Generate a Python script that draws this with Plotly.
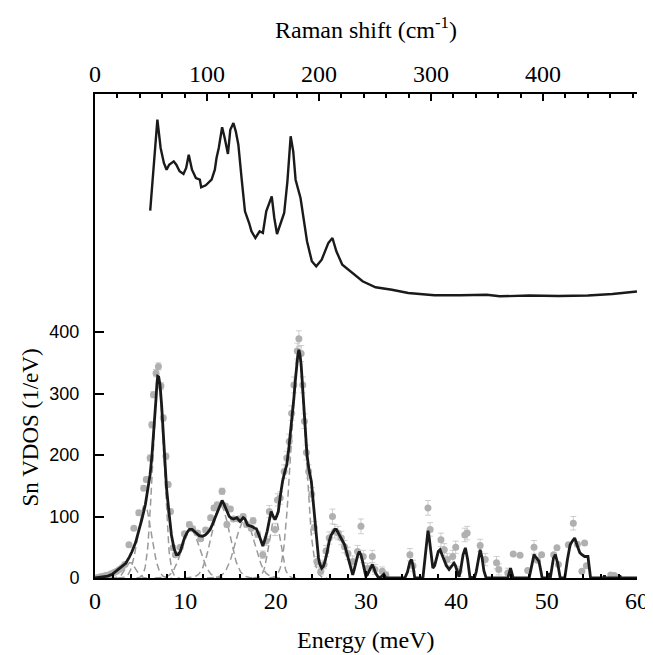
import numpy as np
import plotly.graph_objects as go

# ---------------- data ----------------
# Raman spectrum (top panel): shift in cm^-1, intensity in arbitrary units
raman_shift = [49.3, 55.7, 58.6, 61.5, 63.9, 66.2, 70.3, 72.6, 75.5, 79.0, 81.4, 83.7, 86.6, 90.1,
               93.6, 94.8, 98.9, 104.1, 107.0, 108.5, 110.5, 113.5, 115.8, 118.7, 120.8, 123.6, 125.7,
               128.0, 131.0, 133.9, 137.6, 139.7, 143.2, 147.0, 149.9, 152.9, 157.8, 160.1, 162.5,
               166.0, 168.9, 171.8, 174.7, 177.0, 179.1, 183.5, 189.3, 193.6, 197.5, 202.4, 208.3,
               212.0, 215.5, 220.8, 230.1, 238.9, 250.5, 265.1, 279.7, 303.0, 326.4, 349.7, 361.4,
               387.6, 413.9, 440.1, 462.0, 483.9]
raman_int = [973, 1883, 1600, 1450, 1383, 1433, 1467, 1433, 1367, 1340, 1400, 1533, 1383, 1300,
             1283, 1207, 1227, 1283, 1383, 1500, 1600, 1807, 1700, 1540, 1783, 1850, 1767,
             1633, 1283, 967, 850, 767, 700, 767, 750, 967, 1117, 900, 740,
             850, 950, 1267, 1717, 1567, 1283, 1100, 667, 467, 417, 483, 650,
             700, 567, 433, 350, 267, 207, 183, 150, 127, 127, 133, 117,
             125, 120, 125, 140, 165]

# Sn VDOS fit line (bottom panel)
fit_E = [0, 0.5, 1.0, 1.41, 1.9, 2.3, 2.9, 3.4, 3.8, 4.1, 4.5, 4.85, 5.2, 5.57, 5.85, 6.1, 6.3, 6.47,
         6.62, 6.76, 6.85, 6.94, 7.05, 7.2, 7.38, 7.56, 7.75, 7.92, 8.2, 8.46, 8.75, 9.0, 9.2, 9.44,
         9.65, 9.9, 10.2, 10.45, 10.75, 11.0, 11.3, 11.53, 11.9, 12.2, 12.44, 12.75, 12.99, 13.27,
         13.53, 13.8, 14.07, 14.25, 14.43, 14.65, 14.86, 15.1, 15.33, 15.7, 16.06, 16.4, 16.6,
         16.89, 17.33, 17.69, 17.87, 18.2, 18.58, 18.8, 19.06, 19.3, 19.5, 19.7, 19.93, 20.1,
         20.29, 20.5, 20.76, 21.0, 21.23, 21.45, 21.67, 21.85, 22.02, 22.17, 22.32, 22.45, 22.57,
         22.7, 22.82, 22.95, 23.11, 23.3, 23.47, 23.7, 23.95, 24.15, 24.38, 24.55, 24.74, 24.9,
         25.1, 25.28, 25.46, 25.7, 25.93, 26.15, 26.36, 26.55, 26.72, 26.9, 27.09, 27.35, 27.63,
         27.85, 28.1, 28.3, 28.53, 28.7, 28.9, 29.1, 29.26, 29.45, 29.62, 29.8, 29.98, 30.15,
         30.35, 30.5, 30.7, 30.9, 31.06, 31.4, 31.7, 31.97, 32.2, 34.3, 34.6, 34.85, 35.04, 35.2,
         35.4, 36.3, 36.5, 36.7, 36.86, 37.0, 37.2, 37.4, 37.6, 37.8, 38.0, 38.2, 38.4, 38.66,
         38.9, 39.2, 39.5, 39.74, 39.9, 40.1, 40.3, 40.5, 40.75, 41.0, 41.25, 41.5, 42.0, 42.2,
         42.45, 42.64, 42.85, 43.05, 43.3, 45.7, 45.85, 46.0, 46.15, 46.3, 48.06, 48.3, 48.6,
         48.85, 49.15, 49.35, 49.5, 50.05, 50.2, 50.4, 50.55, 50.75, 50.96, 51.2, 51.5, 52.0,
         52.3, 52.6, 52.85, 53.1, 53.4, 53.67, 53.9, 54.2, 54.57, 54.75, 54.86, 56.3, 56.4,
         56.5, 58.0, 58.1, 58.2, 60]
fit_V = [0, 1, 2, 3, 6, 11, 17, 24, 34, 43, 58, 76, 96, 119, 142, 168, 198, 228,
         262, 293, 315, 328, 327, 314, 280, 238, 190, 146, 105, 70, 48, 38, 38, 43,
         53, 65, 74, 79, 79, 76, 72, 69, 68, 70, 73, 79, 87, 97,
         108, 118, 126, 121, 114, 106, 100, 97, 96, 98, 92, 98, 96,
         86, 84, 81, 80, 68, 52, 62, 76, 94, 108, 101, 95, 100,
         108, 132, 157, 172, 184, 210, 239, 266, 293, 320, 347, 362, 371,
         362, 347, 318, 282, 240, 200, 175, 157, 125, 87, 57, 33, 22,
         16, 19, 27, 42, 60, 70, 76, 79, 79, 74, 69, 62, 54,
         42, 27, 15, 5, 14, 27, 38, 43, 37, 27, 14, 3, 5,
         11, 17, 22, 15, 8, 0, 2, 6, 0, 0, 10, 26, 30, 20,
         0, 0, 25, 60, 77, 65, 35, 16, 20, 34, 43, 46, 38, 27,
         20, 14, 19, 24, 20, 10, 2, 15, 38, 49, 30, 2, 0, 10,
         35, 46, 33, 12, 0, 0, 8, 16, 8, 0, 0, 20, 38,
         33, 27, 12, 0, 0, 8, 0, 15, 32, 38, 25, 0, 0,
         30, 54, 60, 65, 52, 41, 38, 35, 35, 15, 0, 0, 4,
         0, 0, 4, 0, 0]

# measured Sn VDOS points with error bars
dos_E = [0.3, 0.6, 0.9, 1.2, 1.5, 1.8, 2.1, 2.4, 2.7, 3.0, 3.3, 3.76, 4.3, 4.85, 5.39, 5.68, 6.1,
         6.29, 6.47, 6.76, 7.02, 7.3, 7.56, 7.85, 8.1, 8.35, 8.65, 8.9, 9.44, 9.9, 10.45, 10.8,
         11.35, 11.7, 12.25, 12.8, 13.17, 13.53, 14.07, 14.43, 14.6, 14.98, 15.33, 15.87, 16.4,
         16.77, 17.3, 17.5, 18.0, 18.58, 18.94, 19.3, 19.93, 20.2, 20.5, 20.94, 21.23, 21.5,
         21.77, 22.02, 22.39, 22.57, 22.82, 23.0, 23.18, 23.4, 23.65, 24.0, 24.27, 24.56, 25.0,
         25.35, 25.57, 25.93, 26.29, 26.54, 26.9, 27.27, 27.63, 28.0, 28.53, 29.06, 29.44, 29.7,
         30.17, 30.7, 30.99, 31.8, 32.2, 34.86, 35.2, 36.86, 37.1, 38.3, 38.66, 39.0, 39.6,
         39.93, 40.3, 40.94, 41.2, 42.64, 43.2, 44.45, 44.7, 45.7, 46.3, 47.05, 47.9, 48.6,
         48.97, 49.44, 50.78, 51.14, 51.3, 52.4, 52.95, 53.4, 53.9, 54.2, 54.4, 57.1, 57.5]
dos_V = [1, 2, 3, 4, 5, 7, 9, 11, 14, 17, 22, 54, 81, 106, 146, 160, 195,
         249, 298, 333, 344, 312, 260, 198, 152, 108, 49, 38, 50, 72, 87, 80,
         73, 64, 78, 98, 114, 119, 141, 117, 87, 112, 96, 96, 100,
         87, 81, 93, 71, 38, 60, 108, 79, 127, 130, 173, 195, 222,
         268, 314, 369, 389, 365, 314, 255, 204, 173, 136, 82, 27, 11,
         22, 44, 65, 100, 76, 73, 65, 51, 40, 27, 43, 84, 35,
         16, 35, 14, 11, 5, 38, 20, 114, 79, 62, 46, 30, 35,
         50, 11, 70, 73, 53, 30, 25, 14, 8, 39, 37, 12, 50,
         29, 38, 38, 49, 22, 54, 89, 55, 11, 57, 20, 5, 4]
dos_err = [1, 1, 1, 1, 1, 1, 1, 2, 2, 2, 2, 3, 3, 4, 4, 4, 5,
           5, 5, 6, 6, 6, 5, 5, 4, 4, 3, 3, 3, 3, 4, 4,
           4, 3, 4, 4, 4, 4, 5, 4, 4, 4, 4, 4, 4,
           4, 4, 5, 5, 6, 7, 10, 10, 10, 10, 11, 11, 12,
           12, 13, 13, 13, 13, 13, 12, 12, 11, 11, 10, 8, 6,
           7, 9, 10, 12, 11, 11, 11, 10, 10, 9, 10, 12, 10,
           8, 10, 8, 7, 5, 10, 9, 12, 11, 11, 10, 10, 10,
           10, 8, 11, 11, 10, 10, 10, 9, 8, 0, 0, 0, 11,
           0, 0, 0, 0, 0, 0, 11, 0, 0, 0, 0, 0, 0]

# Gaussian components of the decomposition (centre meV, height 1/eV, sigma meV)
gauss_center = [3.9, 5.5, 7.0, 10.6, 13.9, 16.6, 19.9, 22.5]
gauss_height = [25, 118, 325, 78, 118, 95, 100, 365]
gauss_sigma = [0.55, 0.75, 0.6, 1.0, 1.0, 1.05, 0.6, 0.8]

x_ticks = [0, 10, 20, 30, 40, 50, 60]
y_ticks = [0, 100, 200, 300, 400]
raman_ticks = [0, 100, 200, 300, 400]

MEV_TO_CM = 8.0655

# ---------------- figure ----------------
SERIF = "Liberation Serif, Times New Roman, serif"
SANS = "Liberation Sans, Arial, sans-serif"

fig = go.Figure()

for c, h, s in zip(gauss_center, gauss_height, gauss_sigma):
    ge = np.linspace(max(0, c - 4 * s), c + 4 * s, 80)
    gv = h * np.exp(-0.5 * ((ge - c) / s) ** 2)
    fig.add_trace(go.Scatter(x=ge, y=gv, mode="lines",
                             line=dict(color="#9a9a9a", width=1.5, dash="7px,4px"),
                             hoverinfo="skip", showlegend=False))

fig.add_trace(go.Scatter(x=dos_E, y=dos_V, mode="markers",
                         marker=dict(color="#b0b0b0", size=7),
                         error_y=dict(type="data", array=dos_err, visible=True,
                                      color="#b0b0b0", thickness=0.6, width=3),
                         showlegend=False))

fig.add_trace(go.Scatter(x=fit_E, y=fit_V, mode="lines",
                         line=dict(color="#1a1a1a", width=2.8),
                         showlegend=False))

fig.add_trace(go.Scatter(x=raman_shift, y=raman_int, mode="lines",
                         line=dict(color="#1a1a1a", width=2.4),
                         xaxis="x2", yaxis="y2", showlegend=False))

axis_common = dict(showgrid=False, zeroline=False, showline=True, linecolor="black",
                   linewidth=2, ticks="inside", tickcolor="black")

fig.update_layout(
    width=653, height=655,
    margin=dict(l=87, r=12, t=86, b=85),
    paper_bgcolor="white", plot_bgcolor="white",
    xaxis=dict(range=[0, 60], tickvals=x_ticks, ticklen=7, tickwidth=2,
               tickfont=dict(family=SERIF, size=24, color="black"),
               minor=dict(dtick=2, ticks="inside", ticklen=4, tickwidth=1.5, tickcolor="black"),
               **axis_common),
    xaxis2=dict(range=[0, 60 * MEV_TO_CM], overlaying="x", side="top", anchor="y",
                tickvals=raman_ticks, ticklen=7, tickwidth=2,
                tickfont=dict(family=SERIF, size=24, color="black"),
                minor=dict(dtick=20, ticks="inside", ticklen=4, tickwidth=1.5, tickcolor="black"),
                **axis_common),
    yaxis=dict(range=[0, 787], tickvals=y_ticks, ticklen=9, tickwidth=2,
               ticklabelstandoff=10,
               tickfont=dict(family=SANS, size=18, color="black"),
               **axis_common),
    yaxis2=dict(range=[-2700, 2140], overlaying="y", visible=False),
    annotations=[
        dict(text="Raman shift (cm<sup>-1</sup>)", xref="paper", yref="paper",
             x=0.5, y=1.136, xanchor="center", yanchor="middle", showarrow=False,
             font=dict(family=SERIF, size=24, color="black")),
        dict(text="Energy (meV)", xref="paper", yref="paper",
             x=0.5, y=-0.128, xanchor="center", yanchor="middle", showarrow=False,
             font=dict(family=SERIF, size=24, color="black")),
        dict(text="Sn VDOS (1/eV)", xref="paper", yref="paper",
             x=-0.119, y=0.31, xanchor="center", yanchor="middle", showarrow=False,
             textangle=-90, font=dict(family=SERIF, size=23, color="black")),
    ],
)

fig.write_html("out.html")
